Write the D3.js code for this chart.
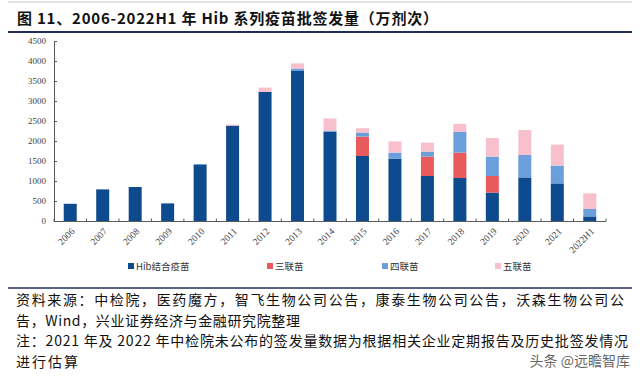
<!DOCTYPE html>
<html>
<head>
<meta charset="utf-8">
<script src="https://cdn.jsdelivr.net/npm/d3@7"></script>
<style>
	body { margin: 0; background: #fff; }
	svg { display: block; }
</style>
</head>
<body>
<div id="chart"></div>
<script>
// values in 万剂次
var years = ['2006', '2007', '2008', '2009', '2010', '2011', '2012', '2013', '2014',
	'2015', '2016', '2017', '2018', '2019', '2020', '2021', '2022H1'];
var hib =  [430, 790, 850, 440, 1400, 2385, 3225, 3750, 2235, 1625, 1560, 1125, 1075, 710, 1090, 940, 115];
var san =  [0, 0, 0, 0, 0, 0, 0, 0, 0, 485, 0, 485, 635, 415, 0, 0, 0];
var si =   [0, 0, 0, 0, 25, 0, 0, 60, 25, 100, 150, 125, 515, 485, 560, 445, 185];
var wu =   [0, 0, 0, 0, 0, 25, 110, 130, 305, 110, 280, 225, 205, 465, 625, 525, 390];
var seriesNames = ['Hib结合疫苗', '三联苗', '四联苗', '五联苗'];
var seriesColors = ['#0d4a8e', '#e95a5c', '#6b9fdc', '#f7c0cc'];
var yTicks = [0, 500, 1000, 1500, 2000, 2500, 3000, 3500, 4000, 4500];

var width = 640, height = 377;
var serif = '"Liberation Serif", "Noto Sans CJK SC", serif';
var cjk = '"Noto Sans CJK SC", "Liberation Serif", serif';

var svg = d3.select('#chart').append('svg')
	.attr('width', width)
	.attr('height', height);

// top title block
svg.append('line').attr('x1', 8).attr('x2', 632).attr('y1', 2).attr('y2', 2)
	.attr('stroke', '#c8c8c8').attr('stroke-width', 1);
svg.append('text')
	.attr('x', 17).attr('y', 24)
	.attr('font-family', cjk)
	.attr('font-weight', 'bold')
	.attr('font-size', 15)
	.attr('fill', '#111')
	.attr('textLength', 421)
	.attr('lengthAdjust', 'spacing')
	.text('图 11、2006-2022H1 年 Hib 系列疫苗批签发量（万剂次）');
svg.append('line').attr('x1', 8).attr('x2', 632).attr('y1', 32).attr('y2', 32)
	.attr('stroke', '#1f2d5a').attr('stroke-width', 2);

var margin = { left: 54, right: 34, top: 41, bottom: 156 };
var x = d3.scaleBand()
	.domain(years)
	.range([margin.left, width - margin.right])
	.paddingInner(0.6)
	.paddingOuter(0.3);
var y = d3.scaleLinear()
	.domain([0, 4500])
	.range([221, 41]);

var rows = years.map(function(d, i) {
	return { year: d, hib: hib[i], san: san[i], si: si[i], wu: wu[i] };
});
var stack = d3.stack().keys(['hib', 'san', 'si', 'wu']);
var layers = stack(rows);

var g = svg.append('g');
g.selectAll('.layer')
	.data(layers)
	.enter()
	.append('g')
	.attr('class', 'layer')
	.attr('fill', function(d, i) { return seriesColors[i]; })
	.selectAll('rect')
	.data(function(d) { return d; })
	.enter()
	.append('rect')
	.attr('x', function(d) { return x(d.data.year); })
	.attr('width', x.bandwidth())
	.attr('y', function(d) { return y(d[1]); })
	.attr('height', function(d) { return y(d[0]) - y(d[1]); });

// y axis
var yAxis = svg.append('g')
	.attr('transform', 'translate(' + margin.left + ',0)')
	.call(d3.axisLeft(y).tickValues(yTicks).tickSize(-3).tickPadding(8).tickFormat(d3.format('d')));
yAxis.select('.domain').attr('stroke', '#5a5a5a');
yAxis.selectAll('.tick line').attr('stroke', '#5a5a5a');
yAxis.selectAll('text')
	.attr('font-family', serif)
	.attr('font-size', 9)
	.attr('fill', '#444');

// x axis with ticks at category boundaries
var x0 = margin.left, x1 = width - margin.right;
var xg = svg.append('g');
xg.append('line').attr('x1', x0).attr('x2', x1).attr('y1', 221.5).attr('y2', 221.5)
	.attr('stroke', '#5a5a5a');
xg.selectAll('.xt')
	.data(d3.range(years.length + 1))
	.enter()
	.append('line')
	.attr('class', 'xt')
	.attr('x1', function(i) { return x0 + (x1 - x0) * i / years.length; })
	.attr('x2', function(i) { return x0 + (x1 - x0) * i / years.length; })
	.attr('y1', 221.5).attr('y2', 218.5)
	.attr('stroke', '#5a5a5a');
xg.selectAll('.xl')
	.data(years)
	.enter()
	.append('text')
	.attr('class', 'xl')
	.attr('text-anchor', 'end')
	.attr('font-family', serif)
	.attr('font-size', 9.5)
	.attr('fill', '#444')
	.attr('transform', function(d) {
		var cx = x(d) + x.bandwidth() / 2 + 5;
		return 'translate(' + cx + ',232) rotate(-45)';
	})
	.text(function(d) { return d; });

// legend
var legendX = [128, 267, 382, 495];
var legend = svg.append('g').selectAll('.lg')
	.data(seriesNames)
	.enter()
	.append('g')
	.attr('class', 'lg')
	.attr('transform', function(d, i) { return 'translate(' + legendX[i] + ',268)'; });
legend.append('rect')
	.attr('x', 0).attr('y', -5).attr('width', 6).attr('height', 6)
	.attr('fill', function(d, i) { return seriesColors[i]; });
legend.append('text')
	.attr('x', 8).attr('y', 1.5)
	.attr('font-family', cjk)
	.attr('font-size', 9.5)
	.attr('fill', '#333')
	.text(function(d) { return d; });

// source notes
svg.append('line').attr('x1', 8).attr('x2', 632).attr('y1', 288).attr('y2', 288)
	.attr('stroke', '#1f2d5a').attr('stroke-width', 1.5);
var notes = [
	'资料来源：中检院，医药魔方，智飞生物公司公告，康泰生物公司公告，沃森生物公司公',
	'告，Wind，兴业证券经济与金融研究院整理',
	'注：2021 年及 2022 年中检院未公布的签发量数据为根据相关企业定期报告及历史批签发情况',
	'进行估算'
];
var noteLen = [608, 284, 612, 62];
svg.selectAll('.note')
	.data(notes)
	.enter()
	.append('text')
	.attr('class', 'note')
	.attr('x', 16)
	.attr('y', function(d, i) { return 305 + i * 20.5; })
	.attr('font-family', cjk)
	.attr('font-size', 14)
	.attr('fill', '#111')
	.attr('textLength', function(d, i) { return noteLen[i]; })
	.attr('lengthAdjust', 'spacing')
	.text(function(d) { return d; });

// watermark
svg.append('text')
	.attr('x', 630).attr('y', 366)
	.attr('text-anchor', 'end')
	.attr('font-family', cjk)
	.attr('font-size', 14)
	.attr('fill', '#333')
	.attr('opacity', 0.75)
	.text('头条 @远瞻智库');
</script>
</body>
</html>
